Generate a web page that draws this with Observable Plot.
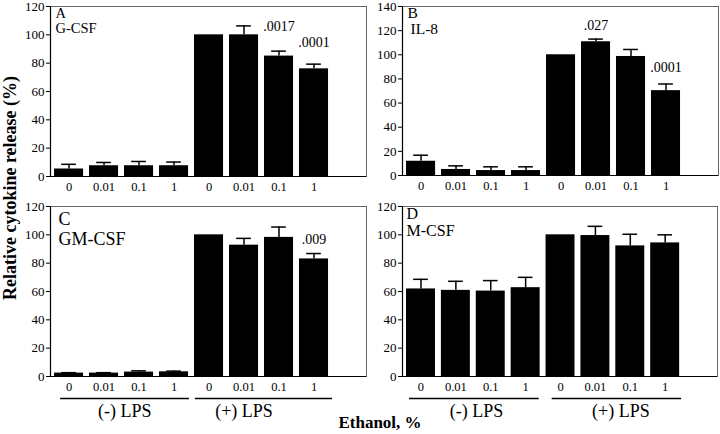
<!DOCTYPE html>
<html>
<head>
<meta charset="utf-8">
<script src="https://cdn.jsdelivr.net/npm/d3@7"></script>
<script src="https://cdn.jsdelivr.net/npm/@observablehq/plot@0.6"></script>
<style>
  html, body { margin: 0; padding: 0; background: #fff; }
  #root { position: relative; width: 720px; height: 434px; overflow: hidden; background: #fff; font-family: "Liberation Serif", "Times New Roman", "DejaVu Serif", serif; color: #000; }
  .panel { position: absolute; }
  .ytitle { position: absolute; left: 10px; top: 188px; transform: translate(-50%, -50%) rotate(-90deg); white-space: nowrap; font-weight: bold; font-size: 18px; }
  .xtitle { position: absolute; left: 380px; top: 423px; transform: translate(-50%, -50%); white-space: nowrap; font-weight: bold; font-size: 17px; }
</style>
</head>
<body>
<div id="root">
  <div class="ytitle">Relative cytokine release (%)</div>
  <div class="xtitle">Ethanol, %</div>
</div>
<script>
// ---- data ----
const conc = ["0", "0.01", "0.1", "1", "0", "0.01", "0.1", "1"];

const gcsf    = [5.3, 7.6, 7.6, 7.6, 100, 100, 85, 76];
const gcsfErr = [3.3, 2.3, 3.0, 2.6, 0, 6.3, 3.5, 3.3];

const il8     = [11.8, 5, 4.1, 4.1, 100, 110.8, 98.6, 70.3];
const il8Err  = [5, 3, 3.1, 3.1, 0, 2.2, 5.8, 5.5];

const gmcsf    = [2.4, 2.4, 3.1, 3.3, 100, 92.7, 98.2, 83];
const gmcsfErr = [0.3, 0.3, 0.9, 0.5, 0, 4.8, 7.3, 3.8];

const mcsf    = [61.8, 60.8, 60.3, 62.7, 100, 99.5, 92.2, 94.3];
const mcsfErr = [6.8, 6.4, 7.4, 7.3, 0, 6.5, 8.2, 5.7];

const pLabelsA = [".0017", ".0001"], pPosA = [7, 8], pYA = [105.8, 94.7];
const pLabelsB = [".027", ".0001"],  pPosB = [6, 8], pYB = [124, 89.6];
const pLabelsC = [".009"],           pPosC = [8],    pYC = [96.5];

const lpsLabels = ["(-) LPS", "(+) LPS"];
const lpsStartC = [0.76, 4.61], lpsEndC = [4.44, 8.53], lpsMidC = [2.59, 6.0];
const lpsStartD = [0.67, 4.76], lpsEndD = [4.39, 8.47], lpsMidD = [2.59, 6.73];

// ---- drawing ----
const FONT = '"Liberation Serif", "Times New Roman", "DejaVu Serif", serif';
const XDOM = [0.47, 9.5];
const HALF = 0.415, CAP = 0.21;

function panel(o) {
  const data = o.values.map((v, i) => ({pos: i + 1, value: v, err: o.errs[i]}));
  const withErr = data.filter(d => d.err > 0);
  const ann = (o.pLabels || []).map((t, i) => ({text: t, pos: o.pPos[i], y: o.pY[i]}));
  const marks = [
    Plot.rectY(data, {x1: d => d.pos - HALF, x2: d => d.pos + HALF, y1: 0, y2: "value", fill: "#000"}),
    Plot.ruleX(withErr, {x: "pos", y1: "value", y2: d => d.value + d.err, stroke: "#000", strokeWidth: 1.5}),
    Plot.ruleY(withErr, {y: d => d.value + d.err, x1: d => d.pos - CAP, x2: d => d.pos + CAP, stroke: "#000", strokeWidth: 1.5}),
    Plot.frame({stroke: "#666", strokeWidth: 1}),
    Plot.ruleX([XDOM[0]], {stroke: "#000", strokeWidth: 1.2}),
    Plot.ruleY([0], {stroke: "#000", strokeWidth: 1.2}),
    Plot.axisY({ticks: d3.range(0, o.ymax + 1, 20), tickSize: 4, tickPadding: 2, fontSize: 13, label: null}),
    Plot.axisX({ticks: d3.range(1, 9), tickSize: 0, tickPadding: 6, tickFormat: i => conc[i - 1], fontSize: 12.5, label: null}),
    Plot.text(ann, {x: "pos", y: "y", text: "text", fontSize: 14, lineAnchor: "middle"}),
    Plot.text([o.letter], {frameAnchor: "top-left", textAnchor: "start", lineAnchor: "middle", dx: o.ldx, dy: o.ldy, fontSize: o.fs}),
    Plot.text([o.name], {frameAnchor: "top-left", textAnchor: "start", lineAnchor: "middle", dx: o.ndx, dy: o.ndy, fontSize: o.fs})
  ];
  if (o.lpsStart) {
    const lps = lpsLabels.map((t, i) => ({text: t, start: o.lpsStart[i], end: o.lpsEnd[i], mid: o.lpsMid[i]}));
    marks.push(Plot.ruleY(lps, {y: d => 0, x1: "start", x2: "end", dy: 22, stroke: "#000", strokeWidth: 1.3}));
    marks.push(Plot.text(lps, {x: "mid", y: d => 0, dy: 35, text: "text", fontSize: 18, lineAnchor: "middle"}));
  }
  const svg = Plot.plot({
    width: o.width, height: o.height,
    marginLeft: 50, marginRight: o.mr, marginTop: 6, marginBottom: o.mb,
    style: {fontFamily: FONT, background: "transparent", color: "#000", overflow: "visible"},
    x: {domain: XDOM},
    y: {domain: [0, o.ymax]},
    marks
  });
  const div = document.createElement("div");
  div.className = "panel";
  div.style.left = o.left + "px";
  div.style.top = o.top + "px";
  div.appendChild(svg);
  document.getElementById("root").appendChild(div);
}

panel({values: gcsf, errs: gcsfErr, ymax: 120, letter: "A", name: "G-CSF",
  left: 0, top: 0, width: 370, height: 200, mr: 4, mb: 24,
  ldx: 5, ldy: 7, ndx: 5, ndy: 22, fs: 14.5,
  pLabels: pLabelsA, pPos: pPosA, pY: pYA});

panel({values: il8, errs: il8Err, ymax: 140, letter: "B", name: "IL-8",
  left: 352, top: 0, width: 368, height: 200, mr: 2, mb: 25,
  ldx: 5, ldy: 7, ndx: 8, ndy: 23, fs: 15.5,
  pLabels: pLabelsB, pPos: pPosB, pY: pYB});

panel({values: gmcsf, errs: gmcsfErr, ymax: 120, letter: "C", name: "GM-CSF",
  left: 0, top: 200, width: 370, height: 234, mr: 4, mb: 58,
  ldx: 8, ldy: 13, ndx: 8, ndy: 33, fs: 18,
  pLabels: pLabelsC, pPos: pPosC, pY: pYC,
  lpsStart: lpsStartC, lpsEnd: lpsEndC, lpsMid: lpsMidC});

panel({values: mcsf, errs: mcsfErr, ymax: 120, letter: "D", name: "M-CSF",
  left: 352, top: 200, width: 368, height: 234, mr: 3, mb: 58,
  ldx: 4, ldy: 7, ndx: 4, ndy: 24, fs: 16,
  lpsStart: lpsStartD, lpsEnd: lpsEndD, lpsMid: lpsMidD});
</script>
</body>
</html>
